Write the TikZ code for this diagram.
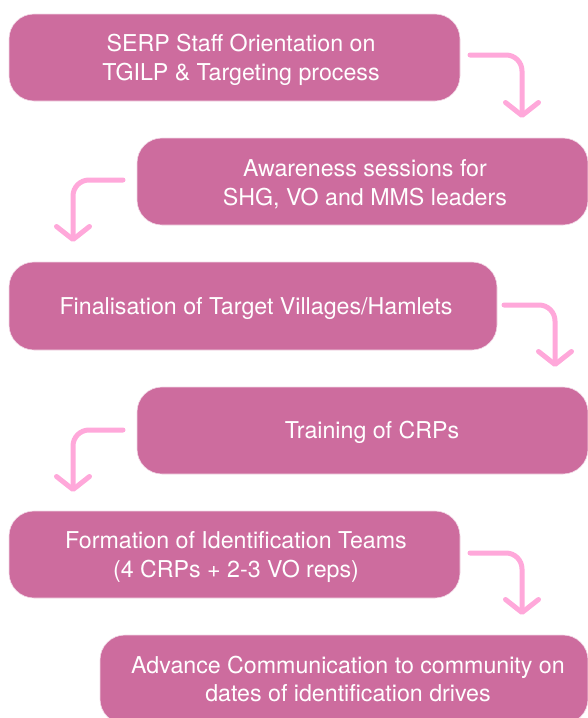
\documentclass[tikz,border=0pt]{standalone}
\usepackage{fontspec}
\setmainfont{TeX Gyre Heros}
\usetikzlibrary{arrows.meta,calc}
\definecolor{boxpink}{HTML}{CD6C9E}
\definecolor{arrowpink}{HTML}{FFA8DA}
\tikzset{
  stepbox/.style={draw=white!75!boxpink, line width=0.6pt, fill=boxpink, rounded corners=25pt},
  steptext/.style={text=white, font=\fontsize{23.2}{28.5}\selectfont, align=center, inner sep=0pt},
  flowarrow/.style={draw=arrowpink, line width=5pt, line cap=round, rounded corners=16pt,
    -{Straight Barb[length=13pt,width=33pt,round]}}
}
\begin{document}
\begin{tikzpicture}[x=1pt,y=-1pt]
\useasboundingbox (0,0) rectangle (587,718);
% boxes
\path[stepbox] (9,14) rectangle (460,101);   \node[coordinate] (b1) at (234.5,57.5) {};
\path[stepbox] (137,138) rectangle (588,225); \node[coordinate] (b2) at (362,181.5) {};
\path[stepbox] (9,262) rectangle (497,350);  \node[coordinate] (b3) at (253,306) {};
\path[stepbox] (137,387) rectangle (588,474); \node[coordinate] (b4) at (362,430.5) {};
\path[stepbox] (9,511) rectangle (460,598);  \node[coordinate] (b5) at (234.5,554.5) {};
\path[stepbox] (100,635) rectangle (588,724); \node[coordinate] (b6) at (343,676) {};
% texts
\node[steptext] (t1) at (241,60) {SERP Staff Orientation on\\TGILP \& Targeting process};
\node[steptext] (t2) at (365,184) {Awareness sessions for\\SHG, VO and MMS leaders};
\node[steptext] (t3) at (256,309) {Finalisation of Target Villages/Hamlets};
\node[steptext] (t4) at (372,432) {Training of CRPs};
\node[steptext] (t5) at (236,557) {Formation of Identification Teams\\(4 CRPs + 2-3 VO reps)};
\node[steptext] (t6) at (348,679) {Advance Communication to community on\\dates of identification drives};
% arrow endpoints
\coordinate (a1s) at (470,55);  \coordinate (a1e) at (522,118);
\coordinate (a2s) at (123,180); \coordinate (a2e) at (73,242);
\coordinate (a3s) at (504,305); \coordinate (a3e) at (555,367);
\coordinate (a4s) at (123,430); \coordinate (a4e) at (73,492);
\coordinate (a5s) at (470,553); \coordinate (a5e) at (522,615);
\draw[flowarrow] (a1s) -| (a1e);
\draw[flowarrow] (a2s) -| (a2e);
\draw[flowarrow] (a3s) -| (a3e);
\draw[flowarrow] (a4s) -| (a4e);
\draw[flowarrow] (a5s) -| (a5e);
\end{tikzpicture}
\end{document}
